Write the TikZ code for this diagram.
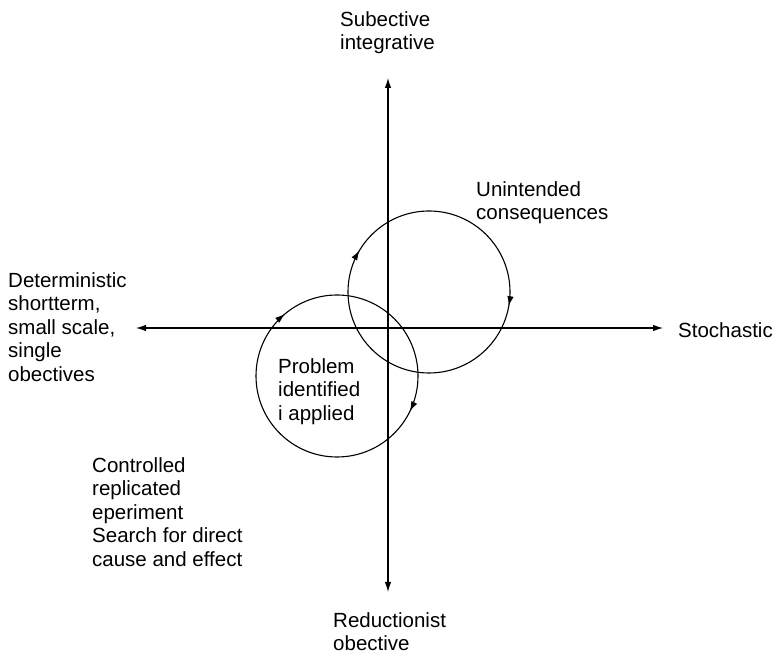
\documentclass[tikz,border=0pt]{standalone}
\usepackage{fontspec}
\setmainfont{Liberation Sans}
\usetikzlibrary{arrows.meta,decorations.markings}
\begin{document}
\begin{tikzpicture}[x=1pt,y=1pt,
  axis/.style={line width=1.1pt,{Latex[length=10pt,width=6.5pt]}-{Latex[length=10pt,width=6.5pt]}},
  loop/.style={line width=1.1pt},
  lbl/.style={anchor=north west,inner sep=0pt,align=left,
    font=\fontsize{20.5}{23.5}\selectfont}]
  \useasboundingbox (0,0) rectangle (781,655);

  % axis end points
  \coordinate (left)   at (136,327);
  \coordinate (right)  at (663,327);
  \coordinate (top)    at (388,577);
  \coordinate (bottom) at (388,63);

  % circle centres
  \coordinate (c1) at (429,363);
  \coordinate (c2) at (337,279);

  \draw[axis] (left) -- (right);
  \draw[axis] (bottom) -- (top);

  % clockwise cycles
  \draw[loop,postaction={decorate},decoration={markings,
      mark=at position 0.414 with {\arrowreversed{Latex[length=10pt,width=6.5pt]}},
      mark=at position 0.972 with {\arrowreversed{Latex[length=10pt,width=6.5pt]}}}]
    (c1) circle[radius=81];
  \draw[loop,postaction={decorate},decoration={markings,
      mark=at position 0.361 with {\arrowreversed{Latex[length=10pt,width=6.5pt]}},
      mark=at position 0.928 with {\arrowreversed{Latex[length=10pt,width=6.5pt]}}}]
    (c2) circle[radius=81];

  % labels
  \node[lbl] (subj)  at (340,644) {Subective\\integrative};
  \node[lbl] (unint) at (476,474) {Unintended\\consequences};
  \node[lbl] (det)   at (8,383)   {Deterministic\\shortterm,\\small scale,\\single\\obectives};
  \node[lbl] (stoch) at (678,333) {Stochastic};
  \node[lbl] (prob)  at (278,297) {Problem\\identified\\i applied};
  \node[lbl] (ctrl)  at (92,198)  {Controlled\\replicated\\eperiment\\Search for direct\\cause and effect};
  \node[lbl] (red)   at (333,43)  {Reductionist\\obective};
\end{tikzpicture}
\end{document}
